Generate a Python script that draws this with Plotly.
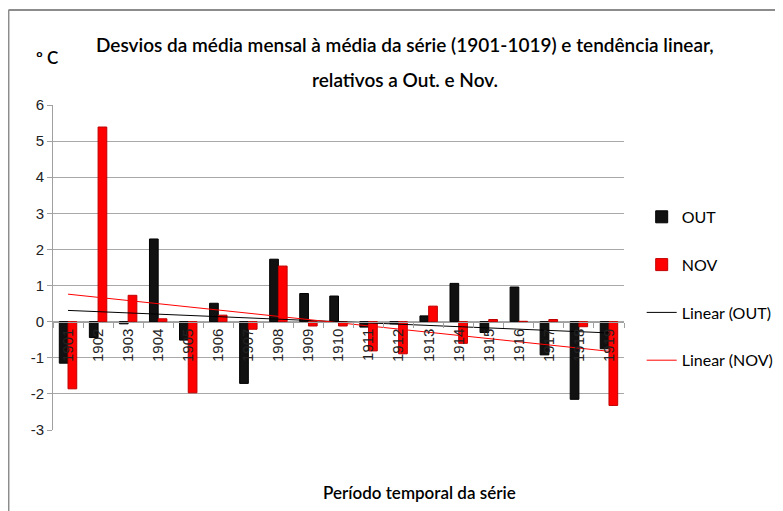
import numpy as np
import plotly.graph_objs as go

# anos e desvios (ºC)
anos = [str(a) for a in range(1901, 1920)]
out_vals = [-1.15, -0.44, -0.06, 2.29, -0.51, 0.51, -1.71, 1.73, 0.78, 0.71,
            -0.15, -0.06, 0.16, 1.06, -0.30, 0.96, -0.92, -2.15, -0.75]
nov_vals = [-1.86, 5.39, 0.73, 0.08, -1.97, 0.18, -0.21, 1.54, -0.12, -0.12,
            -0.81, -0.89, 0.43, -0.60, 0.06, 0.01, 0.06, -0.14, -2.32]
y_ticks = [-3, -2, -1, 0, 1, 2, 3, 4, 5, 6]
y_labels = ["-3", "-2", "-1", "0", "1", "2", "3", "4", "5", "6"]

idx = np.arange(len(anos))
trend_out = np.polyval(np.polyfit(idx, out_vals, 1), idx)
trend_nov = np.polyval(np.polyfit(idx, nov_vals, 1), idx)

data = []
data.append(go.Bar(x=anos, y=out_vals, name="OUT", legendgroup="a",
                   marker=dict(color="#111111", line=dict(color="#000000", width=1))))
data.append(go.Bar(x=anos, y=nov_vals, name="NOV", legendgroup="b",
                   marker=dict(color="#ff0000", line=dict(color="#c00000", width=1))))
data.append(go.Scatter(x=anos, y=trend_out, mode="lines", name="Linear (OUT)",
                       legendgroup="c", line=dict(color="#000000", width=1)))
data.append(go.Scatter(x=anos, y=trend_nov, mode="lines", name="Linear (NOV)",
                       legendgroup="d", line=dict(color="#ff0000", width=1)))

fig = go.Figure(data)
fig.update_layout(
    width=783, height=503,
    margin=dict(l=45, r=163, t=97, b=81),
    paper_bgcolor="white", plot_bgcolor="white",
    barmode="group", bargap=0.42, bargroupgap=0,
    font=dict(family="Liberation Sans, Arial, sans-serif", size=14, color="#000000"),
    showlegend=True,
    legend=dict(x=1.031, y=0.708, xanchor="left", yanchor="top",
                font=dict(family="Lato, sans-serif", size=16),
                tracegroupgap=24, itemwidth=30),
    xaxis=dict(type="category", anchor="free", position=1/3,
               showline=True, linecolor="#a0a0a0", linewidth=1,
               ticks="outside", tickson="boundaries", ticklen=5, tickcolor="#a0a0a0",
               tickangle=-90, showgrid=False, zeroline=False,
               tickfont=dict(size=15, color="#222")),
    yaxis=dict(range=[-3, 6], tickvals=y_ticks, ticktext=y_labels,
               showgrid=True, gridcolor="#a8a8a8", gridwidth=1,
               showline=True, linecolor="#a0a0a0", ticks="outside", ticklen=5,
               tickcolor="#a0a0a0", zeroline=False, tickfont=dict(size=15, color="#222")),
)

titulo = dict(family="Lato, sans-serif", size=19, color="#000", weight=600)
rotulo = dict(family="Lato, sans-serif", size=17, color="#000", weight=600)
fig.add_annotation(text="Desvios da média mensal à média da série (1901-1019) e tendência linear,",
                   xref="paper", yref="paper", x=0.617, y=1.185, xanchor="center", yanchor="middle",
                   showarrow=False, font=titulo)
fig.add_annotation(text="relativos a Out. e Nov.",
                   xref="paper", yref="paper", x=0.617, y=1.077, xanchor="center", yanchor="middle",
                   showarrow=False, font=titulo)
fig.add_annotation(text="º C", xref="paper", yref="paper", x=-0.01, y=1.145,
                   xanchor="center", yanchor="middle", showarrow=False, font=rotulo)
fig.add_annotation(text="Período temporal da série", xref="paper", yref="paper", x=0.642, y=-0.191,
                   xanchor="center", yanchor="middle", showarrow=False, font=rotulo)

# moldura do gráfico (cantos superior e esquerdo)
fig.add_shape(type="line", xref="paper", yref="paper", x0=-0.078, y0=1.292, x1=1.5, y1=1.292,
              line=dict(color="#8c8c8c", width=2))
fig.add_shape(type="line", xref="paper", yref="paper", x0=-0.078, y0=-0.4, x1=-0.078, y1=1.292,
              line=dict(color="#8c8c8c", width=2))

fig.write_html("out.html")
